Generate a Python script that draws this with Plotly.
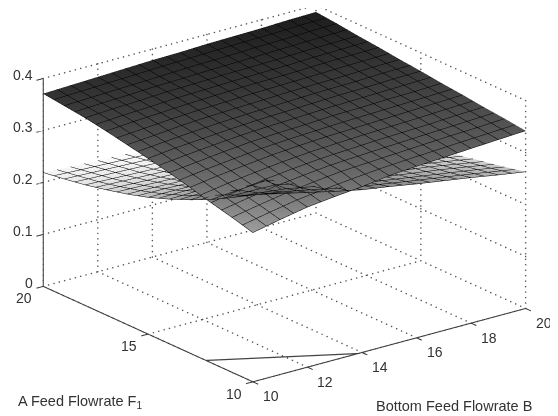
import plotly.graph_objects as go

B_VALUES = [10, 11, 12, 13, 14, 15, 16, 17, 18, 19, 20]
F_VALUES = [10, 11, 12, 13, 14, 15, 16, 17, 18, 19, 20]
B_TICKS = [10, 12, 14, 16, 18, 20]
F_TICKS = [10, 15, 20]
Z_TICKS = [0, 0.1, 0.2, 0.3, 0.4]
Z_LABELS = ["0", "0.1", "0.2", "0.3", "0.4"]

UPPER = [
    [.287, .298, .308, .314, .319, .326, .330, .333, .336, .339, .342],
    [.298, .308, .317, .324, .330, .333, .336, .339, .342, .344, .347],
    [.308, .317, .325, .331, .336, .339, .342, .344, .346, .349, .351],
    [.319, .327, .333, .339, .343, .346, .348, .350, .352, .354, .356],
    [.329, .335, .341, .346, .349, .351, .354, .355, .357, .358, .360],
    [.338, .344, .348, .352, .355, .357, .359, .361, .362, .364, .365],
    [.346, .350, .355, .358, .360, .362, .364, .365, .366, .368, .369],
    [.354, .358, .361, .364, .366, .368, .369, .370, .372, .373, .374],
    [.361, .364, .366, .369, .370, .372, .373, .374, .376, .377, .378],
    [.366, .368, .370, .372, .374, .376, .377, .379, .380, .382, .383],
    [.371, .373, .375, .377, .379, .380, .382, .383, .384, .386, .387],
]
LOWER = [
    [.360, .348, .336, .324, .313, .305, .296, .288, .280, .271, .263],
    [.336, .331, .325, .315, .304, .295, .287, .279, .271, .263, .254],
    [.314, .318, .322, .308, .295, .286, .278, .271, .264, .255, .246],
    [.295, .297, .298, .296, .285, .276, .269, .262, .255, .247, .238],
    [.278, .279, .278, .276, .272, .266, .259, .253, .247, .240, .232],
    [.263, .263, .262, .260, .257, .253, .249, .244, .239, .233, .226],
    [.251, .250, .248, .246, .244, .241, .238, .234, .230, .226, .221],
    [.241, .239, .237, .235, .233, .231, .228, .225, .222, .219, .216],
    [.232, .230, .228, .226, .224, .222, .220, .218, .215, .213, .212],
    [.225, .223, .221, .219, .217, .215, .213, .212, .210, .209, .208],
    [.219, .216, .214, .212, .210, .209, .208, .207, .206, .205, .205],
]
FLOOR_B = [10, 13.85]
FLOOR_F = [12.24, 10]

BMIN, BMAX, FMIN, FMAX, ZMIN, ZMAX = 10, 20, 10, 20, 0, 0.4
TICK = 0.25
LOW = 9.7

GRAYS = [[0, "#ffffff"], [1, "#000000"]]
mesh = dict(show=True, start=10, end=20, size=0.5, color="#000000", width=1.6, highlight=False)
light = dict(ambient=1, diffuse=0, specular=0, roughness=1, fresnel=0)


def surf(z):
    return go.Surface(x=B_VALUES, y=F_VALUES, z=z, coloraxis="coloraxis", lighting=light,
                      contours=dict(x=mesh, y=mesh, z=dict(show=False)),
                      hoverinfo="skip", showscale=False)


def segs(items):
    xs, ys, zs = [], [], []
    for a, b in items:
        xs += [a[0], b[0], None]
        ys += [a[1], b[1], None]
        zs += [a[2], b[2], None]
    return xs, ys, zs


def lines(items, color, width):
    xs, ys, zs = segs(items)
    return go.Scatter3d(x=xs, y=ys, z=zs, mode="lines", hoverinfo="skip", showlegend=False,
                        line=dict(color=color, width=width))


# dotted grid drawn as tiny markers along each grid line
def dotted(items, counts):
    xs, ys, zs = [], [], []
    for (a, b), n in zip(items, counts):
        for i in range(n + 1):
            t = i / n
            xs.append(a[0] + (b[0] - a[0]) * t)
            ys.append(a[1] + (b[1] - a[1]) * t)
            zs.append(a[2] + (b[2] - a[2]) * t)
    return go.Scatter3d(x=xs, y=ys, z=zs, mode="markers", hoverinfo="skip", showlegend=False,
                        marker=dict(color="#555555", size=0.9, line=dict(width=0)))


grid, counts = [], []
N_B, N_F, N_Z = 51, 42, 38
for b in B_TICKS:
    grid.append(((b, FMIN, ZMIN), (b, FMAX, ZMIN))); counts.append(N_F)
    grid.append(((b, FMAX, ZMIN), (b, FMAX, ZMAX))); counts.append(N_Z)
for f in F_TICKS:
    grid.append(((BMIN, f, ZMIN), (BMAX, f, ZMIN))); counts.append(N_B)
    grid.append(((BMAX, f, ZMIN), (BMAX, f, ZMAX))); counts.append(N_Z)
for z in Z_TICKS[1:]:
    grid.append(((BMIN, FMAX, z), (BMAX, FMAX, z))); counts.append(N_B)
    grid.append(((BMAX, FMIN, z), (BMAX, FMAX, z))); counts.append(N_F)

axes = [((BMIN, FMAX, ZMIN), (BMIN, FMAX, ZMAX)),
        ((BMIN, FMIN, ZMIN), (BMIN, FMAX, ZMIN)),
        ((BMIN, FMIN, ZMIN), (BMAX, FMIN, ZMIN))]
for z in Z_TICKS:
    axes.append(((BMIN, FMAX, z), (BMIN - TICK, FMAX, z)))
for f in F_TICKS:
    axes.append(((BMIN, f, ZMIN), (BMIN - TICK, f, ZMIN)))
for b in B_TICKS:
    axes.append(((b, FMIN, ZMIN), (b, FMIN - TICK, ZMIN)))

fig = go.Figure()
fig.add_trace(dotted(grid, counts))
fig.add_trace(surf(LOWER))
fig.add_trace(surf(UPPER))
fig.add_trace(lines(axes, "#333333", 2))
fig.add_trace(go.Scatter3d(x=FLOOR_B, y=FLOOR_F, z=[0, 0], mode="lines", hoverinfo="skip",
                           showlegend=False, line=dict(color="#444444", width=2.5)))

FONT = dict(family="Liberation Sans, Arial, sans-serif", size=14, color="#333333")
ann = []
for z, t in zip(Z_TICKS, Z_LABELS):
    ann.append(dict(x=BMIN, y=FMAX, z=z, text=t, showarrow=False, xanchor="right", yanchor="middle",
                    xshift=-8, yshift=3, font=FONT))
for f in F_TICKS:
    ann.append(dict(x=BMIN, y=f, z=ZMIN, text=str(f), showarrow=False, xanchor="center", yanchor="middle",
                    xshift=-19, yshift=-12, font=FONT))
for b in B_TICKS:
    ann.append(dict(x=b, y=FMIN, z=ZMIN, text=str(b), showarrow=False, xanchor="center", yanchor="middle",
                    xshift=18, yshift=-14.5, font=FONT))

hidden = dict(visible=False, showgrid=False, zeroline=False, showbackground=False, showspikes=False)
L = 3.0
dir_ = (-0.571, -0.743, 0.35)
center = dict(x=-0.0072, y=-0.0369, z=-0.0901)
fig.update_layout(
    width=558, height=416, margin=dict(l=0, r=0, t=0, b=0), autosize=False,
    paper_bgcolor="white", showlegend=False,
    coloraxis=dict(colorscale=GRAYS, cmin=0.21, cmax=0.41, showscale=False),
    scene=dict(
        domain=dict(x=[0, 1], y=[0, 1]),
        xaxis=dict(range=[LOW, BMAX], **hidden),
        yaxis=dict(range=[LOW, FMAX], **hidden),
        zaxis=dict(range=[ZMIN, ZMAX], **hidden),
        aspectmode="manual",
        aspectratio=dict(x=1.7036, y=1.7036, z=1.067),
        camera=dict(projection=dict(type="orthographic"),
                    up=dict(x=0, y=0, z=1), center=center,
                    eye=dict(x=center["x"] + L * dir_[0], y=center["y"] + L * dir_[1], z=center["z"] + L * dir_[2])),
        annotations=ann,
    ),
    annotations=[
        dict(xref="paper", yref="paper", x=8 / 558, y=1 - 394 / 416, xanchor="left", yanchor="middle",
             text="A Feed Flowrate F<sub>1</sub>", showarrow=False, font=dict(FONT, size=14.5)),
        dict(xref="paper", yref="paper", x=366 / 558, y=1 - 398 / 416, xanchor="left", yanchor="middle",
             text="Bottom Feed Flowrate B", showarrow=False, font=dict(FONT, size=14.5)),
    ],
)
fig.write_html("out.html", config=dict(displayModeBar=False))
